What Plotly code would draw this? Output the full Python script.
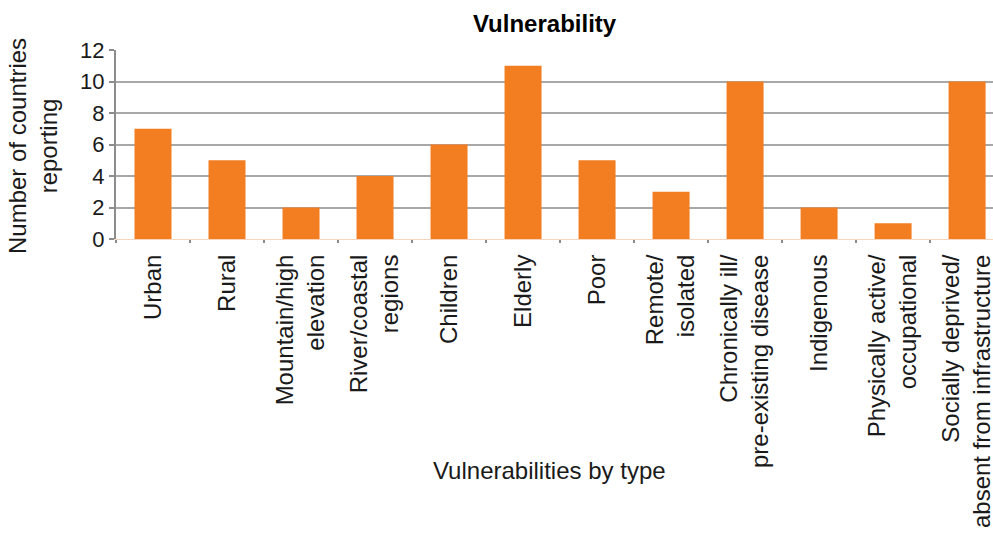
import plotly.graph_objects as go

categories = [
    "Urban", "Rural", "Mountain/high<br>elevation", "River/coastal<br>regions",
    "Children", "Elderly", "Poor", "Remote/<br>isolated",
    "Chronically ill/<br>pre-existing disease", "Indigenous",
    "Physically active/<br>occupational", "Socially deprived/<br>absent from infrastructure",
]
values = [7, 5, 2, 4, 6, 11, 5, 3, 10, 2, 1, 10]
y_ticks = [0, 2, 4, 6, 8, 10, 12]

FONT = "Liberation Sans, Arial, Helvetica, sans-serif"
TXT = "#1a1a1a"

fig = go.Figure(go.Bar(x=categories, y=values, marker=dict(color="#F37D21", line=dict(width=0)),
                       hoverinfo="skip"))

fig.update_layout(
    template="none",
    width=993, height=536,
    margin=dict(l=116, r=0, t=50, b=297, autoexpand=False),
    paper_bgcolor="white", plot_bgcolor="white",
    bargap=0.5, showlegend=False,
    font=dict(family=FONT, color=TXT, size=22),
    xaxis=dict(
        range=[-0.5, 11.35], showgrid=False, showline=True, linecolor="#f6d4bd", linewidth=1,
        ticks="outside", tickson="boundaries", ticklen=3, tickcolor="#8a8a8a", tickwidth=2,
        tickangle=-90, tickfont=dict(size=24, family=FONT, color=TXT),
        zeroline=False, automargin=False, ticklabelstandoff=5,
    ),
    yaxis=dict(
        range=[0, 12], tickvals=y_ticks, showgrid=True, gridcolor="#a8a8a8", gridwidth=1.5,
        showline=True, linecolor="#8c8c8c", linewidth=2, ticks="outside", ticklen=5,
        tickcolor="#8c8c8c", tickwidth=2, zeroline=False, automargin=False,
        tickfont=dict(size=22, family=FONT, color=TXT),
    ),
    annotations=[
        dict(text="<b>Vulnerability</b>", xref="paper", yref="paper",
             x=(545 - 116) / 877, y=(239 - 24) / 189, xanchor="center", yanchor="middle",
             showarrow=False, font=dict(size=24, family=FONT, color="black")),
        dict(text="Number of countries<br>reporting", xref="paper", yref="paper",
             x=(33 - 116) / 877, y=(239 - 146) / 189, xanchor="center", yanchor="middle",
             textangle=-90, showarrow=False, font=dict(size=24, family=FONT, color=TXT)),
        dict(text="Vulnerabilities by type", xref="paper", yref="paper",
             x=(549.5 - 116) / 877, y=(239 - 470) / 189, xanchor="center", yanchor="middle",
             showarrow=False, font=dict(size=24, family=FONT, color=TXT)),
    ],
)

fig.write_html(
    "out.html",
    config={"displayModeBar": False},
    post_script="document.body.style.margin='0';document.body.style.overflow='hidden';",
)
